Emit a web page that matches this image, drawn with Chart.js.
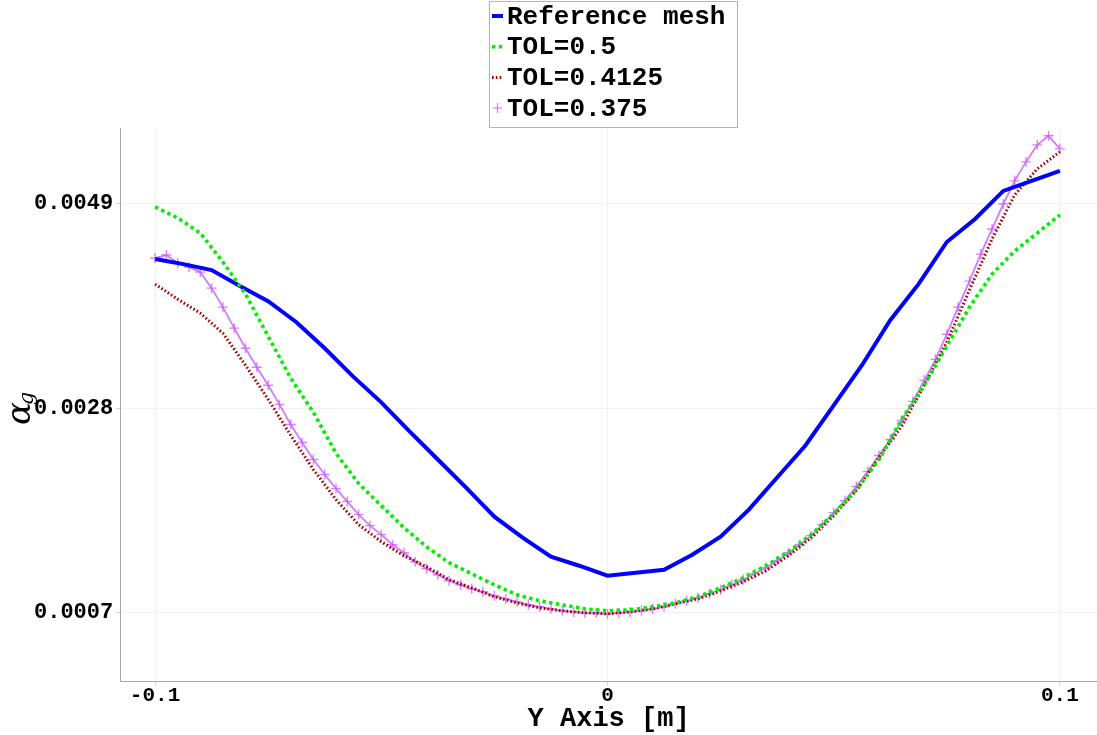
<!DOCTYPE html>
<html>
<head>
<meta charset="utf-8">
<title>Gas volume fraction profile</title>
<script src="https://cdn.jsdelivr.net/npm/chart.js@4/dist/chart.umd.min.js"></script>
<style>
  html, body { margin: 0; padding: 0; background: #ffffff; overflow: hidden; }
  #wrap { width: 1097px; height: 735px; position: relative; }
  #profile { display: block; }
</style>
</head>
<body>
<div id="wrap"><canvas id="profile" width="1097" height="735"></canvas></div>
<script>
// Sampling positions along the Y axis [m]
const refX = [-0.1, -0.09375, -0.0875, -0.08125, -0.075, -0.06875, -0.0625, -0.05625, -0.05, -0.04375,
  -0.0375, -0.03125, -0.025, -0.01875, -0.0125, -0.00625, 0, 0.00625, 0.0125, 0.01875,
  0.025, 0.03125, 0.0375, 0.04375, 0.05, 0.05625, 0.0625, 0.06875, 0.075, 0.08125,
  0.0875, 0.09375, 0.1];

const tolX = [-0.1, -0.095, -0.09, -0.085, -0.08, -0.075, -0.07, -0.065, -0.06, -0.055,
  -0.05, -0.045, -0.04, -0.035, -0.03, -0.025, -0.02, -0.015, -0.01, -0.005,
  0, 0.005, 0.01, 0.015, 0.02, 0.025, 0.03, 0.035, 0.04, 0.045,
  0.05, 0.055, 0.06, 0.065, 0.07, 0.075, 0.08, 0.085, 0.09, 0.095, 0.1];

const fineX = [-0.1, -0.0975, -0.095, -0.0925, -0.09, -0.0875, -0.085, -0.0825, -0.08, -0.0775,
  -0.075, -0.0725, -0.07, -0.0675, -0.065, -0.0625, -0.06, -0.0575, -0.055, -0.0525,
  -0.05, -0.0475, -0.045, -0.0425, -0.04, -0.0375, -0.035, -0.0325, -0.03, -0.0275,
  -0.025, -0.0225, -0.02, -0.0175, -0.015, -0.0125, -0.01, -0.0075, -0.005, -0.0025,
  0, 0.0025, 0.005, 0.0075, 0.01, 0.0125, 0.015, 0.0175, 0.02, 0.0225,
  0.025, 0.0275, 0.03, 0.0325, 0.035, 0.0375, 0.04, 0.0425, 0.045, 0.0475,
  0.05, 0.0525, 0.055, 0.0575, 0.06, 0.0625, 0.065, 0.0675, 0.07, 0.0725,
  0.075, 0.0775, 0.08, 0.0825, 0.085, 0.0875, 0.09, 0.0925, 0.095, 0.0975, 0.1];

// Gas volume fraction alpha_g for each mesh
const refAlpha = [0.004334, 0.004282, 0.004221, 0.004056, 0.003901, 0.003685, 0.003418, 0.003129, 0.002862, 0.002563,
  0.002275, 0.001987, 0.001688, 0.001472, 0.001276, 0.001184, 0.001081, 0.001112, 0.001143, 0.001297,
  0.001482, 0.001760, 0.002090, 0.002419, 0.002831, 0.003243, 0.003706, 0.004076, 0.004509, 0.004746,
  0.005034, 0.005137, 0.005240];

const tol05Alpha = [0.004869, 0.004756, 0.004601, 0.004303, 0.003974, 0.003541, 0.003109, 0.002759, 0.002337, 0.002028,
  0.001801, 0.001575, 0.001379, 0.001215, 0.001101, 0.000988, 0.000885, 0.000824, 0.000782, 0.000741,
  0.000721, 0.000731, 0.000762, 0.000803, 0.000865, 0.000957, 0.001060, 0.001184, 0.001328, 0.001503,
  0.001719, 0.001966, 0.002275, 0.002687, 0.003037, 0.003438, 0.003840, 0.004179, 0.004416, 0.004601, 0.004787];

const tol04125Alpha = [0.004076, 0.003922, 0.003778, 0.003572, 0.003243, 0.002893, 0.002522, 0.002172, 0.001863, 0.001606,
  0.001431, 0.001287, 0.001174, 0.001040, 0.000957, 0.000865, 0.000803, 0.000751, 0.000721, 0.000700,
  0.000690, 0.000710, 0.000741, 0.000793, 0.000844, 0.000926, 0.001019, 0.001132, 0.001287, 0.001472,
  0.001699, 0.001956, 0.002296, 0.002615, 0.003037, 0.003479, 0.004015, 0.004540, 0.004993, 0.005260, 0.005435];

const tol0375Alpha = [0.004344, 0.004375, 0.004293, 0.004251, 0.004200, 0.004035, 0.003840, 0.003624, 0.003418, 0.003222,
  0.003037, 0.002841, 0.002635, 0.002450, 0.002275, 0.002121, 0.001976, 0.001843, 0.001709, 0.001596,
  0.001503, 0.001400, 0.001318, 0.001225, 0.001153, 0.001091, 0.001029, 0.000988, 0.000947, 0.000916,
  0.000875, 0.000844, 0.000813, 0.000782, 0.000762, 0.000741, 0.000721, 0.000710, 0.000700, 0.000700,
  0.000690, 0.000700, 0.000710, 0.000721, 0.000741, 0.000762, 0.000793, 0.000824, 0.000854, 0.000896,
  0.000937, 0.000988, 0.001040, 0.001101, 0.001163, 0.001235, 0.001318, 0.001400, 0.001493, 0.001606,
  0.001729, 0.001853, 0.001997, 0.002151, 0.002316, 0.002481, 0.002676, 0.002872, 0.003088, 0.003304,
  0.003562, 0.003840, 0.004107, 0.004385, 0.004643, 0.004900, 0.005137, 0.005332, 0.005507, 0.005600, 0.005466];

// Axis ticks
const xTicks = [-0.1, 0, 0.1];
const yTicks = [0.0007, 0.0028, 0.0049];

const MONO = '"Liberation Mono", "Courier New", monospace';

const toPoints = (xs, ys) => xs.map((x, i) => ({ x: x, y: ys[i] }));

// Boxed legend in a single column above the plot
const boxLegend = {
  id: 'boxLegend',
  afterDraw(chart) {
    const ctx = chart.ctx;
    const left = 489, top = 1, width = 248, height = 126;
    ctx.save();
    ctx.fillStyle = '#ffffff';
    ctx.fillRect(left, top, width, height);
    ctx.strokeStyle = '#b4b4b4';
    ctx.lineWidth = 1;
    ctx.strokeRect(left + 0.5, top + 0.5, width, height);
    ctx.font = 'bold 26px ' + MONO;
    ctx.textBaseline = 'middle';
    ctx.textAlign = 'left';
    chart.data.datasets.forEach((ds, i) => {
      const y = 16 + i * 30.7;
      const sx = 492, ex = 503;
      if (ds.legendKind === 'cross') {
        ctx.strokeStyle = ds.pointBorderColor;
        ctx.lineWidth = 1.3;
        ctx.beginPath();
        ctx.moveTo(sx + 1, y); ctx.lineTo(ex - 1, y);
        ctx.moveTo((sx + ex) / 2, y - 5); ctx.lineTo((sx + ex) / 2, y + 5);
        ctx.stroke();
      } else {
        ctx.strokeStyle = ds.borderColor;
        ctx.lineWidth = ds.borderWidth;
        ctx.setLineDash(ds.borderDash || []);
        ctx.beginPath();
        ctx.moveTo(sx, y); ctx.lineTo(ex, y);
        ctx.stroke();
        ctx.setLineDash([]);
      }
      ctx.fillStyle = '#000000';
      ctx.fillText(ds.label, 507, y + 1);
    });
    ctx.restore();
  }
};

// Rotated alpha_g title for the vertical axis
const alphaTitle = {
  id: 'alphaTitle',
  afterDraw(chart) {
    const ctx = chart.ctx;
    const cy = (chart.chartArea.top + chart.chartArea.bottom) / 2 + 9;
    ctx.save();
    ctx.translate(21, cy);
    ctx.rotate(-Math.PI / 2);
    ctx.fillStyle = '#000000';
    ctx.textAlign = 'center';
    ctx.textBaseline = 'middle';
    ctx.font = 'italic 34px "DejaVu Serif", serif';
    ctx.fillText('\u03B1', 0, 0);
    ctx.font = 'italic 21px "DejaVu Serif", serif';
    ctx.fillText('g', 15, 7);
    ctx.restore();
  }
};

// Keep the plot area flush with the axes (no extra label padding)
const noScalePadding = (scale) => { scale.paddingLeft = 0; scale.paddingRight = 0; };

new Chart(document.getElementById('profile'), {
  type: 'line',
  data: {
    datasets: [
      {
        label: 'Reference mesh',
        data: toPoints(refX, refAlpha),
        borderColor: '#0000ff',
        borderWidth: 4,
        pointRadius: 0,
        order: 1
      },
      {
        label: 'TOL=0.5',
        data: toPoints(tolX, tol05Alpha),
        borderColor: '#00f000',
        borderWidth: 3.6,
        borderDash: [3.4, 3.4],
        pointRadius: 0,
        order: 0
      },
      {
        label: 'TOL=0.4125',
        data: toPoints(tolX, tol04125Alpha),
        borderColor: '#a80000',
        borderWidth: 3,
        borderDash: [1.6, 2.2],
        pointRadius: 0,
        order: 2
      },
      {
        label: 'TOL=0.375',
        data: toPoints(fineX, tol0375Alpha),
        borderColor: 'rgba(200, 90, 255, 0.8)',
        borderWidth: 1.8,
        pointStyle: 'cross',
        pointRadius: 5,
        pointBorderWidth: 1.4,
        pointBorderColor: 'rgba(200, 90, 255, 0.75)',
        legendKind: 'cross',
        order: 3
      }
    ]
  },
  options: {
    responsive: false,
    animation: false,
    devicePixelRatio: 1,
    layout: { autoPadding: false, padding: { top: 128, left: 31, right: 0, bottom: 2 } },
    elements: { line: { tension: 0, borderCapStyle: 'butt' } },
    plugins: {
      legend: { display: false },
      tooltip: { enabled: false }
    },
    scales: {
      x: {
        type: 'linear',
        min: -0.1077,
        max: 0.1082,
        afterBuildTicks: (scale) => { scale.ticks = xTicks.map(v => ({ value: v })); },
        afterFit: noScalePadding,
        ticks: {
          color: '#000000',
          font: { family: MONO, size: 21, weight: 'bold', lineHeight: 1 },
          padding: 0,
          maxRotation: 0,
          callback: (v) => (v === 0 ? '0' : String(v))
        },
        grid: { color: '#f0f0f0', tickLength: 4, tickColor: '#d0d0d0' },
        border: { color: '#a8a8a8', width: 1 },
        title: {
          display: true,
          text: 'Y Axis [m]',
          color: '#000000',
          font: { family: MONO, size: 27, weight: 'bold', lineHeight: 1 },
          padding: { top: 0, bottom: 0 }
        }
      },
      y: {
        type: 'linear',
        min: 0,
        max: 0.00568,
        afterBuildTicks: (scale) => { scale.ticks = yTicks.map(v => ({ value: v })); },
        ticks: {
          color: '#000000',
          font: { family: MONO, size: 22, weight: 'bold' },
          padding: 3,
          callback: (v) => v.toFixed(4)
        },
        grid: { color: '#f0f0f0', tickLength: 4, tickColor: '#d0d0d0' },
        border: { color: '#a8a8a8', width: 1 }
      }
    }
  },
  plugins: [boxLegend, alphaTitle]
});
</script>
</body>
</html>
